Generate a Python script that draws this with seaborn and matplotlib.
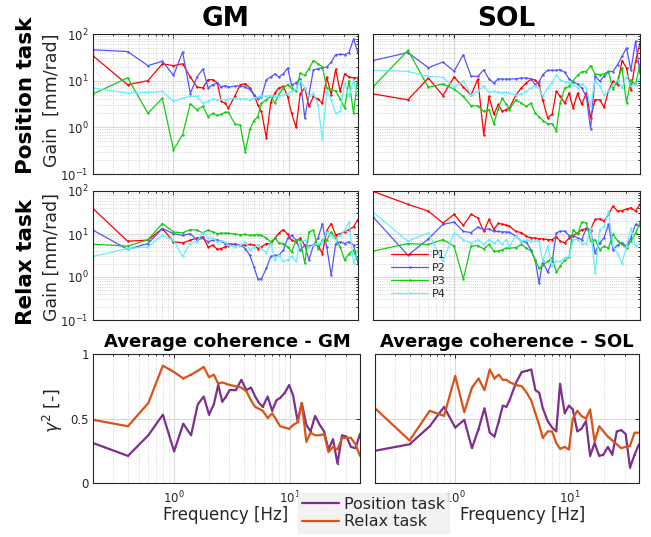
import matplotlib
matplotlib.use('Agg')
import matplotlib.pyplot as plt
from matplotlib.ticker import LogLocator, NullFormatter, FixedLocator, FixedFormatter
import seaborn as sns

# frequency vector of the multisine (Hz)
freq = [0.2, 0.4, 0.6, 0.8, 1.0, 1.2, 1.4, 1.6, 1.8, 2.0, 2.2, 2.4, 2.6, 2.8, 3.0,
        3.4, 3.8, 4.2, 4.6, 5.0, 5.4, 5.8, 6.4, 7.0, 7.6, 8.2, 9.0, 9.8, 10.6, 11.6,
        12.6, 13.8, 15.0, 16.4, 18.0, 19.6, 21.4, 23.4, 25.6, 28.0, 30.6, 33.4, 36.6, 40.0]

participants = ['P1', 'P2', 'P3', 'P4']

# gain [mm/rad], GM, position task
gm_pos_p1 = [34, 8.2, 10, 23, 21, 23, 12, 7.3, 7, 10.5, 10.5, 9, 3.6, 3.3, 2.6, 4.6, 8.2, 8.6, 7, 5,
             3, 2.2, 0.6, 3.5, 5.5, 7, 7.5, 4.5, 2.0, 1.0, 5.3, 7, 2.8, 4.6, 4, 3.3, 12, 5, 17.5, 5.9,
             14, 12, 11.5, 11.5]
gm_pos_p2 = [46, 42, 21, 26, 13, 41, 5.3, 12, 17.8, 7, 8.2, 9, 7.3, 7.8, 7.3, 7.6, 7.8, 7.3, 6.5, 5,
             4, 4.5, 10.5, 12, 14, 12, 14, 18.7, 8, 9, 11, 1.6, 5, 17, 18, 19, 19.5, 25, 36, 37,
             36, 40, 78, 39]
gm_pos_p3 = [5.2, 11.5, 2.0, 4.2, 0.33, 0.7, 3.2, 2.4, 2.8, 1.7, 2.0, 1.8, 1.9, 2.1, 2.1, 1.2, 1.1, 0.3,
             0.9, 1.4, 1.7, 3.3, 3.9, 4.6, 3.3, 5, 7, 8.2, 7, 6, 14.6, 13, 18, 27, 23, 20, 7, 6.5, 6, 4,
             2.6, 10, 2.0, 12]
gm_pos_p4 = [7, 5.4, 5.6, 5.9, 3.6, 4.2, 4.6, 4.6, 3.3, 3.6, 4.1, 3.9, 4, 3.9, 4, 4.2, 4, 4.1, 3.9, 4.3,
             4.5, 4.8, 4.6, 4.8, 4.6, 4.6, 5, 5.2, 6, 6.5, 10, 7, 4.6, 5.4, 3, 0.55, 6, 3.9, 2, 2.2,
             9, 4.6, 10, 4.6]

# gain [mm/rad], SOL, position task
sol_pos_p1 = [5.2, 3.9, 11.4, 4.8, 12, 7.3, 4.9, 10.8, 0.7, 4.6, 1.9, 3.1, 2.2, 2.4, 2.6, 4.9, 7, 9, 10.8,
              10.3, 8.2, 3.9, 1.6, 1.9, 5.9, 4.6, 3.3, 5.4, 2.6, 5.4, 3.1, 5.5, 1.6, 3.9, 3.9, 2.7, 6,
              9.7, 8.2, 27, 18.7, 6.4, 26, 64]
sol_pos_p2 = [27, 40, 19, 25, 16, 36, 12.4, 12.4, 17, 10.8, 8.9, 11, 10.8, 10.8, 10.8, 11, 11.4, 11.5,
              10.8, 8.2, 9.5, 13.4, 16.7, 16.7, 16.7, 17.3, 15, 11, 9.5, 8.4, 7, 4.5, 0.93, 12.4, 9.8,
              12.4, 15.7, 15.7, 22, 33, 50, 17, 70, 14.6]
sol_pos_p3 = [7.3, 44.7, 7.2, 8.5, 6.6, 4.6, 2.9, 2.9, 2.2, 2.4, 1.2, 2.5, 4.2, 3.2, 2.4, 3.9, 3.3, 2.8,
              3.3, 2.0, 1.7, 1.4, 1.2, 1.2, 0.85, 3.3, 7, 7.5, 10, 13, 15.6, 15.6, 21, 14, 13.4, 14,
              15.8, 6.6, 10.5, 18.7, 3.3, 10.5, 8.2, 22.7]
sol_pos_p4 = [16.7, 15.8, 12.4, 11.8, 7.3, 10, 4.9, 5.9, 7.8, 5.6, 5.9, 5.6, 5.5, 5.6, 5.4, 4.9, 5.2, 5.9,
              7, 7.8, 6.8, 4.6, 7, 9, 13.4, 10.5, 9.5, 9, 8.2, 7, 8.5, 7, 2.8, 10, 7.6, 4.9, 5.9, 8,
              10.5, 7, 12.4, 7.6, 8.2, 11.4]

# gain [mm/rad], GM, relax task
gm_rel_p1 = [39, 6.8, 7.2, 13.4, 6.6, 6.2, 7.2, 8, 8.6, 5, 5.5, 4.4, 4.6, 5, 5.4, 5.8, 5.5, 5.5, 5.7, 5.5,
             4.6, 5, 6, 5.8, 8, 10.4, 12.7, 9.8, 7.2, 6.6, 8, 5.5, 5.3, 5.5, 5.5, 3.5, 12, 17.5, 9.5,
             10.2, 11.2, 12.7, 14.6, 22]
gm_rel_p2 = [12.3, 4.4, 6, 13.4, 10.2, 9.3, 10.2, 7.2, 8, 6.6, 7.2, 7.3, 6.8, 6, 6, 5.8, 5.5, 4.6, 3.2,
             1.7, 0.9, 0.9, 1.6, 3, 3.2, 3.2, 4.2, 8, 9.3, 7.2, 4.2, 5.5, 2.5, 5.5, 8, 17.5, 5, 1.1, 6,
             6.6, 6, 6.6, 5.5, 2.1]
gm_rel_p3 = [5.8, 5.2, 7.4, 17.5, 11.2, 10.6, 12.7, 12.3, 10.6, 12.3, 11.2, 10.2, 10.5, 10.4, 10.5, 10,
             9.6, 9.8, 9.3, 9.5, 9.6, 9.3, 8, 6.6, 8, 6.2, 6, 5, 3.8, 7.2, 7.2, 2.1, 11.2, 12.3, 4.6,
             7.2, 7.2, 11.2, 8, 5, 2.5, 3.5, 4.2, 2.3]
gm_rel_p4 = [3, 4.6, 5, 9.3, 7.2, 3, 6, 6.6, 11.2, 8, 8, 6.6, 7, 6.6, 5.5, 5, 5.5, 6.6, 4.2, 5, 5.5, 4.6,
             3.7, 6, 2.5, 3.2, 2.3, 2.5, 3, 2.3, 6.6, 7.2, 5, 5.5, 6, 6.6, 11.2, 9.3, 7.2, 9.3, 12.3,
             19, 2.1, 4.2]

# gain [mm/rad], SOL, relax task
sol_rel_p1 = [98, 49, 34, 18, 28.6, 15.8, 28.6, 23.8, 11.5, 21.8, 12.7, 17.6, 17, 16.1, 15.2, 11.5, 10.8,
              8.9, 8.1, 8.1, 7.7, 7.7, 7.4, 7.4, 8.6, 6.8, 6.2, 8.1, 9.2, 10.6, 12.7, 13.2, 12.7, 21.8,
              22.6, 20, 28.6, 44.7, 34, 35, 38, 40.8, 34, 48.8]
sol_rel_p2 = [25, 3.2, 7.7, 16.7, 18.9, 11.5, 10.8, 14.4, 12.7, 13.2, 11.5, 11.5, 11.2, 11.2, 11, 8.9,
              6.8, 6.4, 4.3, 2.5, 0.72, 2.3, 1.3, 2.3, 10.6, 11.6, 11.6, 9.2, 9.2, 8.1, 7.4, 13.9, 12,
              3.6, 6.3, 8.1, 16.7, 4.3, 5.5, 6.3, 5.2, 8.1, 16.7, 15.2]
sol_rel_p3 = [4, 6, 5.7, 7.4, 5.2, 0.9, 5.2, 5.4, 4.5, 5.7, 4, 4, 4.3, 4.7, 4.7, 4.8, 5.7, 4.7, 4, 2.5,
              1.6, 1.9, 2.3, 2.8, 1.3, 1.8, 2.5, 2.9, 12.7, 9.8, 18.9, 18, 6.8, 7.4, 4.3, 5.2, 4.7, 9.8,
              7, 5.7, 4.7, 6.8, 10.6, 18]
sol_rel_p4 = [32, 6.8, 10.6, 2.3, 10.6, 7.4, 6.1, 7.4, 5.7, 7.4, 6.1, 7.4, 5.7, 7.4, 5.2, 8.9, 6.8, 7.4,
              6.8, 6.8, 7, 2.3, 5.2, 1.8, 2.3, 2.3, 2.8, 3, 7.4, 7.4, 6, 6, 13.9, 1.24, 12.7, 15, 34,
              5.2, 3.5, 2.1, 5.2, 13.9, 5.2, 6]

# average coherence [-]
gm_coh_pos = [0.31, 0.21, 0.37, 0.53, 0.245, 0.46, 0.37, 0.61, 0.67, 0.53, 0.61, 0.76, 0.63, 0.67, 0.72,
              0.72, 0.80, 0.72, 0.74, 0.67, 0.62, 0.59, 0.67, 0.56, 0.64, 0.66, 0.70, 0.76, 0.68, 0.48,
              0.62, 0.45, 0.40, 0.52, 0.45, 0.40, 0.26, 0.34, 0.15, 0.37, 0.36, 0.28, 0.27, 0.38]
gm_coh_rel = [0.49, 0.44, 0.62, 0.91, 0.86, 0.81, 0.84, 0.87, 0.90, 0.82, 0.84, 0.77, 0.78, 0.77, 0.76,
              0.75, 0.74, 0.71, 0.64, 0.59, 0.575, 0.56, 0.505, 0.54, 0.49, 0.44, 0.43, 0.42, 0.45, 0.47,
              0.62, 0.32, 0.39, 0.37, 0.37, 0.38, 0.24, 0.28, 0.26, 0.35, 0.35, 0.35, 0.30, 0.21]
sol_coh_pos = [0.25, 0.30, 0.44, 0.59, 0.43, 0.49, 0.27, 0.42, 0.58, 0.39, 0.36, 0.48, 0.60, 0.59, 0.65,
               0.78, 0.86, 0.87, 0.88, 0.72, 0.70, 0.58, 0.48, 0.43, 0.40, 0.77, 0.54, 0.60, 0.57, 0.40,
               0.42, 0.48, 0.21, 0.31, 0.21, 0.22, 0.28, 0.22, 0.40, 0.41, 0.38, 0.12, 0.22, 0.30]
sol_coh_rel = [0.58, 0.33, 0.56, 0.52, 0.83, 0.55, 0.74, 0.81, 0.72, 0.88, 0.81, 0.84, 0.80, 0.80, 0.78,
               0.76, 0.75, 0.70, 0.64, 0.54, 0.45, 0.35, 0.40, 0.40, 0.31, 0.265, 0.28, 0.26, 0.50, 0.56,
               0.52, 0.50, 0.57, 0.32, 0.44, 0.40, 0.36, 0.33, 0.30, 0.27, 0.28, 0.29, 0.39, 0.39]

gain_colors = ['#ff0000', '#5555ff', '#11cc11', '#66eeff']
coh_colors = ['#7e2f8e', '#d95319']
TXT = '#262626'

sns.set_theme(style='white')
plt.rcParams['font.family'] = ['DejaVu Sans']
plt.rcParams['mathtext.fontset'] = 'dejavusans'

W, H = 651, 537
fig = plt.figure(figsize=(W / 100, H / 100), dpi=100)


def px_axes(x0, y0, x1, y1):
    return fig.add_axes([x0 / W, 1 - y1 / H, (x1 - x0) / W, (y1 - y0) / H])


def px_text(x, y, s, **kw):
    fig.text(x / W, 1 - y / H, s, ha='center', va='center', **kw)


def matlab_style(ax):
    ax.set_xscale('log')
    ax.set_xlim(0.2, 40)
    ax.xaxis.set_major_locator(LogLocator(base=10, numticks=10))
    ax.xaxis.set_minor_locator(LogLocator(base=10, subs=range(2, 10), numticks=20))
    ax.xaxis.set_minor_formatter(NullFormatter())
    ax.tick_params(which='both', direction='in', top=True, right=True, colors=TXT,
                   labelsize=8.5, width=0.7)
    ax.tick_params(which='major', length=3)
    ax.tick_params(which='minor', length=1.6)
    ax.grid(True, which='major', color='#dadada', linewidth=0.8, linestyle='-')
    ax.grid(True, which='minor', axis='x', color='#c8c8c8', linewidth=0.6, linestyle=':')
    ax.set_axisbelow(True)
    for sp in ax.spines.values():
        sp.set_color(TXT)
        sp.set_linewidth(0.8)
    ax.set_xlabel('')
    ax.set_ylabel('')


def gain_panel(ax, series, show_y):
    for vals, col, name in zip(series, gain_colors, participants):
        sns.lineplot(x=freq, y=vals, ax=ax, color=col, linewidth=0.9, marker='.',
                     markersize=3.5, markeredgewidth=0, label=name, legend=False)
    matlab_style(ax)
    ax.set_yscale('log')
    ax.set_ylim(0.1, 100)
    ax.yaxis.set_major_locator(LogLocator(base=10, numticks=10))
    ax.yaxis.set_minor_locator(LogLocator(base=10, subs=range(2, 10), numticks=20))
    ax.yaxis.set_minor_formatter(NullFormatter())
    ax.grid(True, which='minor', axis='y', color='#c8c8c8', linewidth=0.6, linestyle=':')
    ax.tick_params(axis='x', labelbottom=False)
    ax.tick_params(axis='y', labelleft=show_y, pad=3)


def coh_panel(ax, pos, rel, show_y):
    for vals, col, name in zip([pos, rel], coh_colors, ['Position task', 'Relax task']):
        sns.lineplot(x=freq, y=vals, ax=ax, color=col, linewidth=1.6, marker='.',
                     markersize=2, markeredgewidth=0, label=name, legend=False)
    matlab_style(ax)
    ax.set_ylim(0, 1)
    ax.yaxis.set_major_locator(FixedLocator([0, 0.5, 1]))
    ax.yaxis.set_major_formatter(FixedFormatter(['0', '0.5', '1']))
    ax.yaxis.set_minor_locator(FixedLocator([]))
    ax.tick_params(axis='y', labelleft=show_y, pad=3)
    ax.tick_params(axis='x', pad=5)


ax_gm_pos = px_axes(93, 34, 358, 174)
ax_sol_pos = px_axes(373, 34, 640, 174)
ax_gm_rel = px_axes(93, 191, 358, 320)
ax_sol_rel = px_axes(373, 191, 640, 320)
ax_gm_coh = px_axes(93, 354, 360, 483)
ax_sol_coh = px_axes(375, 354, 639, 483)

gain_panel(ax_gm_pos, [gm_pos_p1, gm_pos_p2, gm_pos_p3, gm_pos_p4], True)
gain_panel(ax_sol_pos, [sol_pos_p1, sol_pos_p2, sol_pos_p3, sol_pos_p4], False)
gain_panel(ax_gm_rel, [gm_rel_p1, gm_rel_p2, gm_rel_p3, gm_rel_p4], True)
gain_panel(ax_sol_rel, [sol_rel_p1, sol_rel_p2, sol_rel_p3, sol_rel_p4], False)
coh_panel(ax_gm_coh, gm_coh_pos, gm_coh_rel, True)
coh_panel(ax_sol_coh, sol_coh_pos, sol_coh_rel, False)

# participant legend inside the SOL relax panel
h, l = ax_sol_rel.get_legend_handles_labels()
ax_sol_rel.legend(h, l, loc='upper left', bbox_to_anchor=(0.04, 0.6), frameon=False,
                  fontsize=8, handlelength=3.3, handletextpad=0.3, labelspacing=0.25,
                  borderpad=0.2, labelcolor=TXT)

# coherence legend below the plots
h, l = ax_gm_coh.get_legend_handles_labels()
leg = fig.legend(h, l, loc='upper left', bbox_to_anchor=(298 / W, 1 - 493 / H), frameon=True,
                 fontsize=11.5, handlelength=2.3, handletextpad=0.3, labelspacing=0.15,
                 borderpad=0.25, borderaxespad=0, fancybox=False, labelcolor=TXT)
leg.get_frame().set_facecolor('#efefef')
leg.get_frame().set_edgecolor('#efefef')

# titles and labels
px_text(226, 19, 'GM', fontsize=19, fontweight='bold', color='black')
px_text(506, 19, 'SOL', fontsize=19, fontweight='bold', color='black')
px_text(26, 95, 'Position task', fontsize=15.5, fontweight='bold', rotation=90, color='black')
px_text(52, 100, 'Gain  [mm/rad]', fontsize=12.5, rotation=90, color=TXT)
px_text(26, 262, 'Relax task', fontsize=15.5, fontweight='bold', rotation=90, color='black')
px_text(52, 257, 'Gain [mm/rad]', fontsize=12.5, rotation=90, color=TXT)
px_text(227, 342, 'Average coherence - GM', fontsize=13, fontweight='bold', color='black')
px_text(507, 342, 'Average coherence - SOL', fontsize=13, fontweight='bold', color='black')
px_text(53, 410, r'$\gamma^2$ [-]', fontsize=12.5, rotation=90, color=TXT)
px_text(226, 515, 'Frequency [Hz]', fontsize=12, color=TXT)
px_text(523, 515, 'Frequency [Hz]', fontsize=12, color=TXT)

fig.savefig('out.png', dpi=100, facecolor='white')
